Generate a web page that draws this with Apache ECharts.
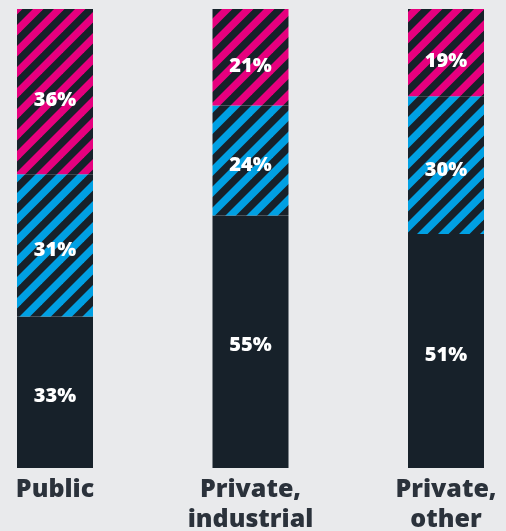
<!DOCTYPE html>
<html>
<head>
<meta charset="utf-8">
<script src="https://cdn.jsdelivr.net/npm/echarts@6/dist/echarts.min.js"></script>
<style>
  html, body { margin: 0; padding: 0; background: #e9eaec; }
  #chart { width: 506px; height: 531px; }
</style>
</head>
<body>
<div id="chart"></div>
<script>
// Ownership shares (%) by sector
const categories = ['Public', 'Private,\nindustrial', 'Private,\nother'];
const baseShare = [33, 55, 51];
const middleShare = [31, 24, 30];
const topShare = [36, 21, 19];

const DARK = '#17212a';
const BLUE = '#00a0e3';
const PINK = '#e6007e';
const TEXT = '#2b323b';
const FONT = '"Open Sans", sans-serif';

// Diagonal "/" stripe tile: colour bands alternating with dark bands
function stripePattern(color, period) {
  const c = document.createElement('canvas');
  c.width = period; c.height = period;
  const ctx = c.getContext('2d');
  const h = period / 2;
  ctx.fillStyle = DARK;
  ctx.fillRect(0, 0, period, period);
  ctx.fillStyle = color;
  ctx.beginPath();
  ctx.moveTo(0, 0); ctx.lineTo(h, 0); ctx.lineTo(0, h); ctx.closePath();
  ctx.fill();
  ctx.beginPath();
  ctx.moveTo(period, 0); ctx.lineTo(period, h); ctx.lineTo(h, period); ctx.lineTo(0, period); ctx.closePath();
  ctx.fill();
  return { image: c, repeat: 'repeat' };
}

const labelStyle = (dy) => ({
  show: true,
  position: 'inside',
  offset: [0, dy],
  color: '#ffffff',
  fontFamily: FONT,
  fontWeight: 800,
  fontSize: 20,
  formatter: (p) => p.value + '%'
});

const chart = echarts.init(document.getElementById('chart'), null, { renderer: 'canvas' });
chart.setOption({
  backgroundColor: '#e9eaec',
  animation: false,
  grid: { left: 55, right: 60, top: 9, bottom: 63, outerBoundsMode: 'none', containLabel: false },
  xAxis: {
    type: 'category',
    data: categories,
    boundaryGap: false,
    axisLine: { show: false },
    axisTick: { show: false },
    axisLabel: {
      interval: 0,
      margin: 7,
      color: TEXT,
      fontFamily: FONT,
      fontWeight: 800,
      fontSize: 25,
      lineHeight: 30
    }
  },
  yAxis: { type: 'value', min: 0, max: 100, show: false },
  series: [
    {
      type: 'bar', stack: 'share', data: baseShare, barWidth: 76, clip: false,
      itemStyle: { color: DARK },
      label: labelStyle(4)
    },
    {
      type: 'bar', stack: 'share', data: middleShare, barWidth: 76, clip: false,
      itemStyle: { color: stripePattern(BLUE, 21) },
      label: labelStyle(5)
    },
    {
      type: 'bar', stack: 'share', data: topShare, barWidth: 76, clip: false,
      itemStyle: { color: stripePattern(PINK, 21) },
      label: labelStyle(9)
    }
  ]
});
</script>
</body>
</html>
